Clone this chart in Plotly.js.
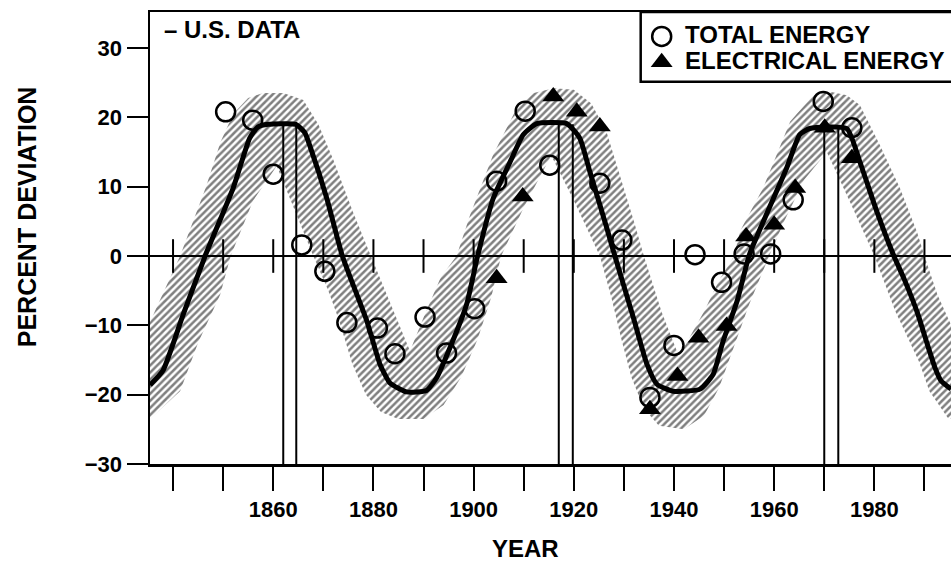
<!DOCTYPE html>
<html>
<head>
<meta charset="utf-8">
<script src="https://cdn.plot.ly/plotly-3.0.1.min.js"></script>
<style>
  html, body { margin: 0; padding: 0; background: #fff; overflow: hidden; }
  #chart { width: 951px; height: 562px; }
</style>
</head>
<body>
<div id="chart"></div>
<script>
// ---- Data ----
// Smoothed long-wave curve (year, percent deviation)
const curveYears = [1835.4, 1838.0, 1842.0, 1846.4, 1852.0, 1855.3, 1856.9, 1859.0, 1864.5, 1866.3, 1867.5, 1870.7, 1873.8,
  1878.7, 1881.3, 1883.3, 1886.6, 1890.6, 1892.6, 1895.3, 1898.6, 1900.8, 1903.9, 1907.3, 1909.9, 1912.6,
  1918.6, 1921.2, 1923.2, 1926.6, 1928.2, 1931.9, 1934.6, 1936.6, 1939.9, 1945.2, 1947.8, 1949.8, 1952.6,
  1955.1, 1959.0, 1962.5, 1965.1, 1967.1, 1974.5, 1977.1, 1980.5, 1983.9, 1986.0, 1988.6, 1990.6, 1992.1,
  1993.3, 1995.3];
const curveValues = [-18.6, -16.5, -8.5, 0.0, 9.8, 17.0, 18.6, 19.0, 19.0, 17.8, 15.5, 8.3, 0.0,
  -9.4, -15.6, -18.3, -19.6, -19.4, -17.6, -13.2, -7.0, 0.0, 8.3, 13.6, 17.5, 19.1,
  19.1, 17.0, 12.2, 4.0, 0.0, -8.9, -15.6, -18.5, -19.5, -19.2, -17.1, -12.3, -6.5,
  0.3, 6.9, 12.7, 17.5, 18.4, 18.4, 13.6, 6.4, 0.0, -3.4, -8.2, -12.8, -16.1,
  -18.0, -19.2];

// Hatched uncertainty band: upper edge
const bandUpperYears = [1835.4, 1841.4, 1846.5, 1849.5, 1852.0, 1855.0, 1858.0, 1862.0, 1866.0, 1869.0, 1872.0,
  1876.0, 1879.5, 1883.5, 1887.3, 1890.5, 1893.5, 1896.6, 1899.3, 1903.9, 1908.6, 1912.0, 1916.0, 1920.0,
  1923.5, 1926.5, 1929.5, 1932.0, 1934.0, 1937.5, 1941.0, 1946.0, 1949.0, 1952.0, 1953.2, 1957.8, 1963.2,
  1967.8, 1971.2, 1974.5, 1977.1, 1981.1, 1985.1, 1988.5, 1990.0, 1992.6, 1995.3];
const bandUpperValues = [-9.5, 0.0, 9.8, 16.5, 20.5, 22.8, 23.5, 23.5, 22.5, 19.0, 13.9,
  6.2, 0.0, -7.0, -13.7, -8.0, -3.0, 0.0, 5.9, 14.6, 21.3, 23.5, 24.2, 24.0,
  22.0, 18.0, 11.0, 5.0, 0.0, -8.0, -14.5, -8.0, -3.5, 0.0, 3.6, 9.8, 19.4,
  23.2, 23.7, 23.2, 21.8, 16.0, 9.8, 3.5, 0.0, -5.6, -9.9];

// Hatched uncertainty band: lower edge
const bandLowerYears = [1835.4, 1841.4, 1845.0, 1849.4, 1851.5, 1856.0, 1860.7, 1864.0, 1868.0, 1871.0, 1873.2,
  1875.8, 1878.5, 1881.5, 1885.0, 1890.0, 1894.0, 1897.5, 1900.8, 1903.5, 1905.5, 1910.0, 1915.5, 1920.0,
  1925.2, 1927.5, 1929.5, 1931.5, 1934.0, 1937.0, 1942.0, 1946.0, 1949.0, 1952.0, 1955.0, 1959.0, 1962.0,
  1966.0, 1970.5, 1975.0, 1980.0, 1984.2, 1986.5, 1988.9, 1991.0, 1994.6, 1995.3];
const bandLowerValues = [-23.5, -19.5, -12.5, -5.6, 0.0, 8.0, 13.0, 7.0, 0.0, -5.0, -9.4,
  -15.6, -20.0, -22.5, -23.5, -23.5, -21.5, -17.5, -12.0, -6.0, 0.0, 7.0, 14.5, 8.0,
  0.0, -6.0, -12.0, -17.5, -22.0, -24.5, -25.0, -23.0, -19.0, -13.0, -7.0, 0.0, 5.0,
  11.0, 15.0, 8.0, 0.0, -8.0, -11.5, -15.2, -19.5, -23.3, -23.5];

// Total energy (open circles)
const totalYears = [1850.5, 1855.9, 1860.0, 1865.7, 1870.3, 1874.7, 1880.8, 1884.3, 1890.3, 1894.6, 1900.2,
  1904.6, 1910.3, 1915.2, 1925.2, 1929.6, 1935.2, 1940.0, 1944.2, 1949.5, 1954.0, 1959.3, 1963.8, 1969.8, 1975.5];
const totalValues = [20.8, 19.6, 11.8, 1.6, -2.2, -9.6, -10.4, -14.1, -8.8, -14.0, -7.6,
  10.8, 20.9, 13.1, 10.5, 2.3, -20.4, -12.9, 0.2, -3.8, 0.3, 0.3, 8.1, 22.3, 18.5];

// Electrical energy (filled triangles)
const elecYears = [1904.6, 1909.8, 1915.9, 1920.6, 1925.2, 1935.2, 1940.7, 1944.9, 1950.5, 1954.4, 1960.0,
  1964.2, 1970.1, 1975.5];
const elecValues = [-3.2, 8.6, 23.0, 20.8, 18.7, -22.1, -17.3, -11.8, -10.1, 2.8, 4.5,
  9.8, 18.5, 14.1];

// Paired vertical lines under each peak
const peakLineYears = [1862.0, 1864.6, 1917.0, 1919.8, 1970.0, 1972.8];
const peakLineTops = [18.8, 18.6, 19.1, 19.0, 18.4, 18.4];

// Axis ticks
const decadeTicks = [1840, 1850, 1860, 1870, 1880, 1890, 1900, 1910, 1920, 1930, 1940, 1950, 1960, 1970, 1980, 1990];
const decadeLabels = ['', '', '1860', '', '1880', '', '1900', '', '1920', '', '1940', '', '1960', '', '1980', ''];
const yTicks = [-30, -20, -10, 0, 10, 20, 30];
const yFloor = -30;

// Legend entries
const legendNames = ['TOTAL ENERGY', 'ELECTRICAL ENERGY'];
const legendSymbols = ['circle-open', 'triangle-up'];

// ---- Build traces ----
const vx = [], vy = [];
peakLineYears.forEach((yr, i) => { vx.push(yr, yr, null); vy.push(peakLineTops[i], yFloor, null); });

const FONT = 'Liberation Sans, Arial, Helvetica, sans-serif';
const BOLD = (size) => ({ family: FONT, size: size, color: '#000', weight: 'bold' });

// legend geometry (paper fractions)
const legX0 = 0.6126, legY0 = 0.8458;
const legSymX = 0.6388, legTextX = 0.6658;
const legRowY = [0.9460, 0.8930];

const traces = [
  { x: bandUpperYears, y: bandUpperValues, mode: 'lines', line: { width: 0, color: 'rgba(0,0,0,0)' },
    showlegend: false, hoverinfo: 'skip' },
  { x: bandLowerYears, y: bandLowerValues, mode: 'lines', line: { width: 0, color: 'rgba(0,0,0,0)' },
    fill: 'tonexty', fillcolor: 'rgba(255,255,255,0)',
    fillpattern: { shape: '/', size: 5, solidity: 0.5, fgcolor: '#000', bgcolor: 'rgba(255,255,255,0)', fillmode: 'overlay' },
    showlegend: false, hoverinfo: 'skip' },
  { x: vx, y: vy, mode: 'lines', line: { width: 2, color: '#000' }, showlegend: false, hoverinfo: 'skip' },
  { x: decadeTicks, y: decadeTicks.map(() => 0), mode: 'markers',
    marker: { symbol: 'line-ns', size: 24, line: { width: 2, color: '#000' } }, showlegend: false, hoverinfo: 'skip' },
  { x: curveYears, y: curveValues, mode: 'lines', line: { width: 5, color: '#000', shape: 'spline', smoothing: 0.5 },
    showlegend: false, hoverinfo: 'skip' },
  { x: totalYears, y: totalValues, mode: 'markers', name: legendNames[0], showlegend: false,
    marker: { symbol: legendSymbols[0], size: 19, color: '#000', line: { width: 2.5, color: '#000' } } },
  { x: elecYears, y: elecValues, mode: 'markers', name: legendNames[1], showlegend: false,
    marker: { symbol: legendSymbols[1], size: 19, color: '#000', line: { width: 0 } } },
  // legend key symbols, drawn on an overlay axis matching the paper
  { x: [legSymX], y: [legRowY[0]], xaxis: 'x2', yaxis: 'y2', mode: 'markers', showlegend: false, hoverinfo: 'skip',
    marker: { symbol: legendSymbols[0], size: 19, color: '#000', line: { width: 2.5, color: '#000' } } },
  { x: [legSymX], y: [legRowY[1] - 0.004], xaxis: 'x2', yaxis: 'y2', mode: 'markers', showlegend: false, hoverinfo: 'skip',
    marker: { symbol: legendSymbols[1], size: 19, color: '#000', line: { width: 0 } } }
];

const layout = {
  width: 951, height: 562,
  margin: { l: 150, r: 0, t: 12, b: 98, pad: 0 },
  paper_bgcolor: '#fff', plot_bgcolor: '#fff',
  font: BOLD(22),
  showlegend: false,
  xaxis: {
    range: [1835.4, 1995.3], showgrid: false, zeroline: false,
    showline: true, linewidth: 2.5, linecolor: '#000', mirror: true,
    ticks: 'outside', ticklen: 24, tickwidth: 2, tickcolor: '#000',
    tickmode: 'array', tickvals: decadeTicks, ticktext: decadeLabels,
    tickfont: BOLD(22)
  },
  yaxis: {
    range: [-30, 35.2], showgrid: false,
    zeroline: true, zerolinewidth: 2.5, zerolinecolor: '#000',
    showline: true, linewidth: 2.5, linecolor: '#000', mirror: false,
    ticks: 'outside', ticklen: 21, tickwidth: 2, tickcolor: '#000',
    tickmode: 'array', tickvals: yTicks,
    tickfont: BOLD(22)
  },
  xaxis2: { overlaying: 'x', range: [0, 1], visible: false, fixedrange: true },
  yaxis2: { overlaying: 'y', range: [0, 1], visible: false, fixedrange: true },
  shapes: [
    { type: 'rect', xref: 'paper', yref: 'paper', x0: legX0, x1: 1.03, y0: legY0, y1: 1.0,
      line: { color: '#000', width: 2.5 }, fillcolor: 'rgba(255,255,255,0)', layer: 'above' }
  ],
  annotations: [
    { text: '– U.S. DATA', xref: 'paper', yref: 'paper', x: 0.0146, y: 0.9613, xanchor: 'left', yanchor: 'middle',
      showarrow: false, font: BOLD(24) },
    { text: 'PERCENT DEVIATION', xref: 'paper', yref: 'paper', x: -0.1536, y: 0.548, textangle: -90,
      xanchor: 'center', yanchor: 'middle', showarrow: false, font: BOLD(25) },
    { text: 'YEAR', xref: 'paper', yref: 'paper', x: 0.4694, y: -0.1862, xanchor: 'center', yanchor: 'middle',
      showarrow: false, font: BOLD(24) },
    { text: legendNames[0], xref: 'paper', yref: 'paper', x: legTextX, y: legRowY[0] + 0.004, xanchor: 'left', yanchor: 'middle',
      showarrow: false, font: BOLD(24) },
    { text: legendNames[1], xref: 'paper', yref: 'paper', x: legTextX, y: legRowY[1], xanchor: 'left', yanchor: 'middle',
      showarrow: false, font: BOLD(24) }
  ]
};

Plotly.newPlot('chart', traces, layout, { staticPlot: true, displayModeBar: false });
</script>
</body>
</html>
